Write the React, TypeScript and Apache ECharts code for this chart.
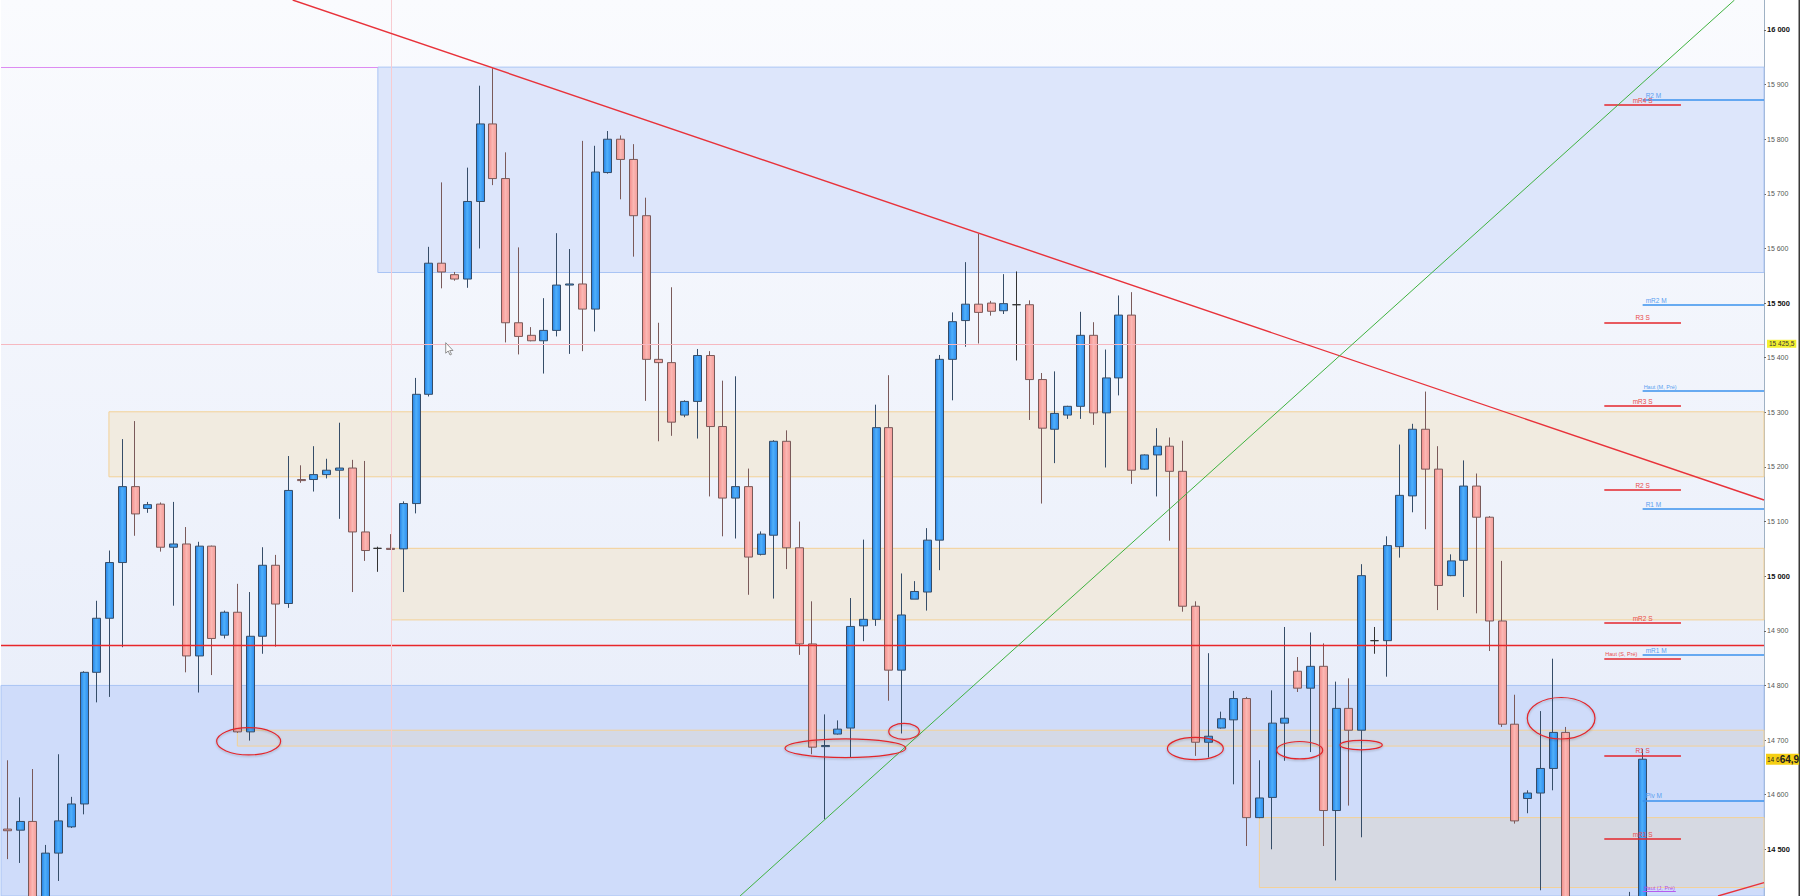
import React, { useEffect, useRef } from "react";
import * as echarts from "echarts";

const Y_MIN = 14414.5;
const Y_MAX = 16054.9;
const SLOT_COUNT = 138;
const categories: string[] = Array.from({ length: SLOT_COUNT }, (_, i) => `B${i + 1}`);

// [open, close, low, high]
const candlesPart1 = [
  [14537, 14534, 14482, 14663], [14535, 14551, 14475, 14595], [14551, 14390, 14350, 14647], [14380, 14493, 14340, 14508],
  [14493, 14552, 14442, 14674], [14541, 14583, 14539, 14596], [14583, 14824, 14564, 14826], [14824, 14923, 14769, 14955],
  [14923, 15025, 14779, 15047], [15025, 15164, 14870, 15251], [15164, 15114, 15074, 15284], [15124, 15131, 15116, 15136],
  [15132, 15053, 15045, 15135], [15053, 15059, 14946, 15136], [15059, 14854, 14824, 15090], [14854, 15055, 14787, 15063],
  [15055, 14886, 14819, 15056], [14892, 14934, 14886, 14937], [14934, 14715, 14713, 14986], [14715, 14890, 14699, 14971],
  [14890, 15020, 14858, 15053], [15020, 14949, 14871, 15039], [14950, 15157, 14942, 15220], [15177, 15175, 15171, 15203],
  [15177, 15186, 15155, 15238], [15186, 15194, 15179, 15215], [15194, 15198, 15105, 15281], [15198, 15081, 14971, 15213],
  [15081, 15047, 15028, 15211], [15051, 15051, 15008, 15054], [15051, 15049, 15048, 15077], [15050, 15133, 14971, 15137],
];
const candlesPart2 = [
  [15133, 15333, 15115, 15363], [15333, 15573, 15329, 15603], [15573, 15557, 15527, 15721], [15552, 15544, 15541, 15557],
  [15544, 15686, 15528, 15748], [15686, 15828, 15600, 15898], [15828, 15728, 15716, 15930], [15728, 15464, 15428, 15776],
  [15464, 15439, 15406, 15602], [15441, 15431, 15430, 15456], [15431, 15450, 15371, 15509], [15450, 15533, 15439, 15628],
  [15533, 15535, 15407, 15599], [15535, 15489, 15412, 15797], [15489, 15740, 15448, 15788], [15739, 15800, 15737, 15815],
  [15800, 15763, 15690, 15807], [15763, 15660, 15585, 15791], [15660, 15397, 15321, 15693], [15397, 15391, 15247, 15464],
  [15391, 15282, 15257, 15529], [15295, 15320, 15291, 15322], [15320, 15404, 15252, 15416], [15404, 15274, 15146, 15412],
  [15274, 15143, 15073, 15358], [15143, 15164, 15069, 15366], [15164, 15035, 14966, 15197], [15040, 15077, 15038, 15082],
  [15075, 15247, 14959, 15249], [15247, 15052, 15013, 15267], [15052, 14876, 14856, 15100], [14876, 14687, 14674, 14954],
];
const candlesPart3 = [
  [14688, 14690, 14555, 14747], [14711, 14720, 14710, 14736], [14722, 14908, 14668, 14960], [14909, 14921, 14881, 15067],
  [14921, 15272, 14909, 15314], [15272, 14828, 14772, 15368], [14828, 14929, 14712, 15005], [14958, 14972, 14958, 14991],
  [14971, 15066, 14937, 15088], [15066, 15397, 15011, 15405], [15397, 15466, 15322, 15483], [15468, 15498, 15420, 15575],
  [15498, 15483, 15426, 15627], [15500, 15485, 15477, 15504], [15486, 15499, 15480, 15553], [15497, 15497, 15395, 15558],
  [15497, 15360, 15286, 15505], [15360, 15271, 15133, 15372], [15269, 15298, 15207, 15375], [15295, 15311, 15288, 15312],
  [15311, 15441, 15288, 15484], [15441, 15299, 15277, 15465], [15299, 15363, 15199, 15415], [15363, 15478, 15331, 15514],
  [15478, 15194, 15169, 15520], [15196, 15222, 15195, 15223], [15222, 15238, 15146, 15271], [15238, 15192, 15065, 15254],
  [15192, 14945, 14935, 15248], [14945, 14696, 14671, 14954], [14696, 14707, 14668, 14859], [14722, 14739, 14721, 14752],
];
const candlesPart4 = [
  [14737, 14776, 14619, 14790], [14776, 14558, 14506, 14779], [14558, 14594, 14557, 14663], [14595, 14731, 14500, 14791],
  [14731, 14740, 14662, 14907], [14826, 14795, 14788, 14852], [14795, 14835, 14678, 14897], [14835, 14571, 14506, 14877],
  [14571, 14758, 14443, 14807], [14758, 14718, 14580, 14813], [14718, 15001, 14522, 15022], [14882, 14882, 14858, 14907],
  [14882, 15056, 14816, 15073], [15054, 15148, 15034, 15241], [15147, 15269, 15117, 15279], [15269, 15196, 15086, 15338],
  [15196, 14983, 14938, 15238], [15001, 15028, 15000, 15040], [15029, 15165, 14962, 15212], [15165, 15108, 14932, 15188],
  [15108, 14918, 14863, 15110], [14918, 14729, 14724, 15028], [14729, 14552, 14547, 14783], [14593, 14603, 14566, 14608],
  [14603, 14648, 14425, 14753], [14648, 14714, 14608, 14849], [14714, 14380, 14340, 14724], [14380, 14330, 14300, 14395],
  [14330, 14310, 14280, 14360], [14310, 14340, 14290, 14370], [14340, 14320, 14300, 14385], [14320, 14380, 14300, 14422],
  [14380, 14664.9, 14350, 14684],
];

// zones: [startSlot, lowPrice, highPrice]
const zoneUpperBlue = [29, 15556, 15932];
const zoneLowerBlue = [-0.5, Y_MIN, 14800];
const zoneBeigeA = [7.95, 15182, 15301];
const zoneBeigeB = [30.07, 14920, 15051];
const zoneGreyC = [18, 14689, 14718];
const zoneGreyD = [98, 14430, 14558];

// horizontal references
const mainRedLevel = 14872.8;
const lastCloseMarker = 15425.5;
const currentPrice = 14664.9;
const violetLevel = 15931;
const verticalMarkerSlot = 30.07;

// pivot levels (right side)
const levelNames = ["R2 M", "mR4 S", "mR2 M", "R3 S", "Haut (M, Pré)", "mR3 S", "R2 S", "R1 M", "mR2 S", "mR1 M", "Haut (S, Pré)", "R1 S", "Piv M", "mR1 S", "Haut (J, Pré)"];
const levelPrices = [15872.4, 15862.7, 15496.5, 15464.8, 15339.6, 15311.6, 15157.8, 15123, 14914.9, 14855.8, 14849.7, 14672.1, 14589.7, 14518.4, 14422.4];
const levelKinds = ["M", "S", "M", "S", "M", "S", "S", "M", "S", "M", "S", "S", "M", "S", "J"];

// trend lines [slot, price]
const trendRed = [[22.33, 16054.9], [137.5, 15139.5]];
const trendGreen = [[57.35, 14414.5], [135.19, 16054.9]];
const trendRedLow = [[133.9, 14414.5], [137.5, 14439.1]];

// annotation ellipses [slot1, price1, slot2, price2]
const annotationEllipses = [
  [16.38, 14722.6, 21.39, 14672.7],
  [60.87, 14702.1, 70.32, 14667.9],
  [68.99, 14730.5, 71.38, 14701.2],
  [90.8, 14704.9, 95.18, 14664.1],
  [99.36, 14697.4, 102.96, 14665.5],
  [104.31, 14699.6, 107.62, 14682.2],
  [118.97, 14777.9, 124.27, 14701.9],
];
const cursorAt = [34.31, 15427.5];

const FONT = "Liberation Sans, Arial, sans-serif";

function fmtThousands(v: number): string {
  const k = Math.floor(v / 1000);
  const r = Math.round(v - k * 1000);
  return `${k} ${String(r).padStart(3, "0")}`;
}

function buildOption(): any {
  const allCandles: any[] = [...candlesPart1, ...candlesPart2, ...candlesPart3, ...candlesPart4];
  while (allCandles.length < SLOT_COUNT) allCandles.push("-");

  const zoneBorder = "#f3d197";
  const mkZone = (z: number[], fill: string, border: string) => [
    { coord: [z[0], z[2]], itemStyle: { color: fill, borderColor: border, borderWidth: 1 } },
    { coord: [SLOT_COUNT - 0.5, z[1]] },
  ];

  const levelLines = levelNames.map((name, i) => {
    const kind = levelKinds[i];
    const p = levelPrices[i];
    const isHaut = name.startsWith("Haut");
    let x1 = 125, x2 = 131, color = "#e5262b", labelColor = "#ea4a4a", pos = "insideMiddleTop";
    if (kind === "M") { x1 = 128; x2 = SLOT_COUNT - 0.5; color = "#3a92ee"; labelColor = "#5a9ff0"; pos = "insideStartTop"; }
    if (kind === "J") { x1 = 128; x2 = 130.6; color = "#b45cf0"; labelColor = "#b04ce8"; pos = "insideStartTop"; }
    if (isHaut && kind === "S") pos = "insideStartTop";
    return [
      {
        coord: [x1, p],
        lineStyle: { color, width: kind === "J" ? 1 : 1.6, type: "solid" },
        label: {
          show: true, position: pos, formatter: name, color: labelColor,
          fontSize: isHaut ? 5.5 : 6.5, fontFamily: FONT, distance: [isHaut ? 1 : 3, 1],
        },
      },
      { coord: [x2, p] },
    ];
  });

  const upFill = new echarts.graphic.LinearGradient(0, 0, 1, 0, [
    { offset: 0, color: "#2580e2" }, { offset: 0.45, color: "#4fb0fb" }, { offset: 1, color: "#2c8cee" },
  ]);
  const downFill = new echarts.graphic.LinearGradient(0, 0, 1, 0, [
    { offset: 0, color: "#f28e8b" }, { offset: 0.5, color: "#fbb7b3" }, { offset: 1, color: "#f39c98" },
  ]);

  return {
    animation: false,
    backgroundColor: "#ffffff",
    textStyle: { fontFamily: FONT },
    grid: {
      left: 1, right: 36, top: 0, bottom: 0, show: true, borderWidth: 0, containLabel: false, outerBoundsMode: "none",
      backgroundColor: new echarts.graphic.LinearGradient(0, 0, 0, 1, [
        { offset: 0, color: "#fafbfe" }, { offset: 1, color: "#e5ebf9" },
      ]),
    },
    xAxis: [
      { type: "category", data: categories, boundaryGap: true, show: false },
      { type: "value", min: -0.5, max: SLOT_COUNT - 0.5, show: false },
    ],
    yAxis: {
      type: "value", position: "right", min: Y_MIN, max: Y_MAX, splitNumber: 16, scale: true,
      axisLine: { show: true, onZero: false, lineStyle: { color: "#9fb1c4", width: 1 } },
      axisTick: { show: true, length: 2, lineStyle: { color: "#666" } },
      splitLine: { show: false },
      axisLabel: {
        margin: 3, showMinLabel: false, showMaxLabel: false,
        formatter: (v: number) => (Math.round(v) % 500 === 0 ? `{b|${fmtThousands(v)}}` : `{n|${fmtThousands(v)}}`),
        rich: {
          n: { fontSize: 7, color: "#555", fontFamily: FONT },
          b: { fontSize: 7.5, color: "#111", fontWeight: "bold", fontFamily: FONT },
        },
      },
    },
    series: [
      {
        name: "zones", type: "line", xAxisIndex: 1, yAxisIndex: 0, data: [[-0.5, 15000]], symbol: "none",
        lineStyle: { opacity: 0 }, silent: true, z: 1,
        markArea: {
          silent: true,
          data: [
            mkZone(zoneUpperBlue, "#dde6fb", "#a9c4f4"),
            mkZone(zoneLowerBlue, "#cfdcfa", "#a9c4f4"),
            mkZone(zoneBeigeA, "#f1ebe0", zoneBorder),
            mkZone(zoneBeigeB, "#f0eae0", zoneBorder),
            mkZone(zoneGreyC, "#d4d9e6", zoneBorder),
            mkZone(zoneGreyD, "#d6d9e2", zoneBorder),
          ],
        },
      },
      {
        name: "levels", type: "line", xAxisIndex: 1, yAxisIndex: 0, data: [[-0.5, 15000]], symbol: "none",
        lineStyle: { opacity: 0 }, silent: true, z: 2,
        markLine: { silent: true, symbol: ["none", "none"], data: levelLines },
      },
      {
        name: "candles", type: "candlestick", xAxisIndex: 0, yAxisIndex: 0, data: allCandles, barWidth: 8.5, clip: true, z: 3,
        itemStyle: {
          color: upFill, color0: downFill, borderColor: "#364d68", borderColor0: "#7a5a5a",
          borderColorDoji: "#333", borderWidth: 1,
        },
      },
      {
        name: "hlines", type: "line", xAxisIndex: 1, yAxisIndex: 0, data: [[-0.5, 15000]], symbol: "none",
        lineStyle: { opacity: 0 }, silent: true, z: 4,
        markLine: {
          silent: true, symbol: ["none", "none"],
          data: [
            { yAxis: mainRedLevel, lineStyle: { color: "#e8262a", width: 1.3, type: "solid" }, label: { show: false } },
            {
              yAxis: lastCloseMarker, lineStyle: { color: "#f6b8c0", width: 1, type: "solid" },
              label: {
                show: true, position: "end", distance: 3, formatter: "15 425,5", fontSize: 6.5, color: "#333",
                backgroundColor: "#f3f030", padding: [1, 2, 0, 2], fontFamily: FONT,
              },
            },
            {
              yAxis: currentPrice, lineStyle: { color: "transparent", width: 0.1, type: "solid" },
              label: {
                show: true, position: "end", distance: 2, formatter: "{a|14 6}{b|64,9}",
                backgroundColor: "#f5cf14", padding: [1, 0, 0, 1],
                rich: {
                  a: { fontSize: 6.5, color: "#222", fontFamily: FONT },
                  b: { fontSize: 10, color: "#222", fontWeight: "bold", fontFamily: FONT },
                },
              },
            },
            { xAxis: verticalMarkerSlot, lineStyle: { color: "#f8cbd0", width: 1, type: "solid" }, label: { show: false } },
            [
              { coord: [-0.5, violetLevel], lineStyle: { color: "#dd8cf2", width: 1, type: "solid" }, label: { show: false } },
              { coord: [zoneUpperBlue[0], violetLevel] },
            ],
          ],
        },
      },
      {
        name: "trendRed", type: "line", xAxisIndex: 1, yAxisIndex: 0, data: trendRed, symbol: "none", silent: true, z: 5,
        lineStyle: { color: "#e8323a", width: 1.4 }, clip: true,
      },
      {
        name: "trendGreen", type: "line", xAxisIndex: 1, yAxisIndex: 0, data: trendGreen, symbol: "none", silent: true, z: 5,
        lineStyle: { color: "#3fb23f", width: 1 }, clip: true,
      },
      {
        name: "trendRedLow", type: "line", xAxisIndex: 1, yAxisIndex: 0, data: trendRedLow, symbol: "none", silent: true, z: 5,
        lineStyle: { color: "#e8323a", width: 1.4 }, clip: true,
      },
    ],
  };
}

export default function App() {
  const ref = useRef<HTMLDivElement>(null);
  useEffect(() => {
    const el = ref.current;
    if (!el) return;
    const chart = echarts.init(el, null, { renderer: "svg" });
    chart.setOption(buildOption());
    const toPx = (x: number, y: number) =>
      chart.convertToPixel({ xAxisIndex: 1, yAxisIndex: 0 } as any, [x, y]) as unknown as number[];
    const graphics: any[] = [];
    annotationEllipses.forEach(([x1, y1, x2, y2]) => {
      const a = toPx(x1, y1);
      const b = toPx(x2, y2);
      graphics.push({
        type: "ellipse",
        shape: { cx: (a[0] + b[0]) / 2, cy: (a[1] + b[1]) / 2, rx: Math.abs(b[0] - a[0]) / 2, ry: Math.abs(b[1] - a[1]) / 2 },
        style: { fill: "none", stroke: "#e2262b", lineWidth: 1.2, shadowBlur: 2, shadowColor: "rgba(0,0,0,0.25)", shadowOffsetY: 1 },
        z: 10, silent: true,
      });
    });
    const c = toPx(cursorAt[0], cursorAt[1]);
    graphics.push({
      type: "polygon", x: c[0], y: c[1],
      shape: { points: [[0, 0], [0, 10.5], [2.5, 8.3], [4.3, 12.3], [5.8, 11.6], [4, 7.8], [7.3, 7.8]] },
      style: { fill: "#ffffff", stroke: "#777", lineWidth: 0.8 }, z: 20, silent: true,
    });
    graphics.push({
      type: "rect", shape: { x: 1798.5, y: 0, width: 1.5, height: 896 }, style: { fill: "#3a3a3a" }, z: 1, silent: true,
    });
    chart.setOption({ graphic: graphics });
    return () => chart.dispose();
  }, []);
  return <div ref={ref} style={{ position: "fixed", left: 0, top: 0, width: 1800, height: 896, background: "#fff" }} />;
}
